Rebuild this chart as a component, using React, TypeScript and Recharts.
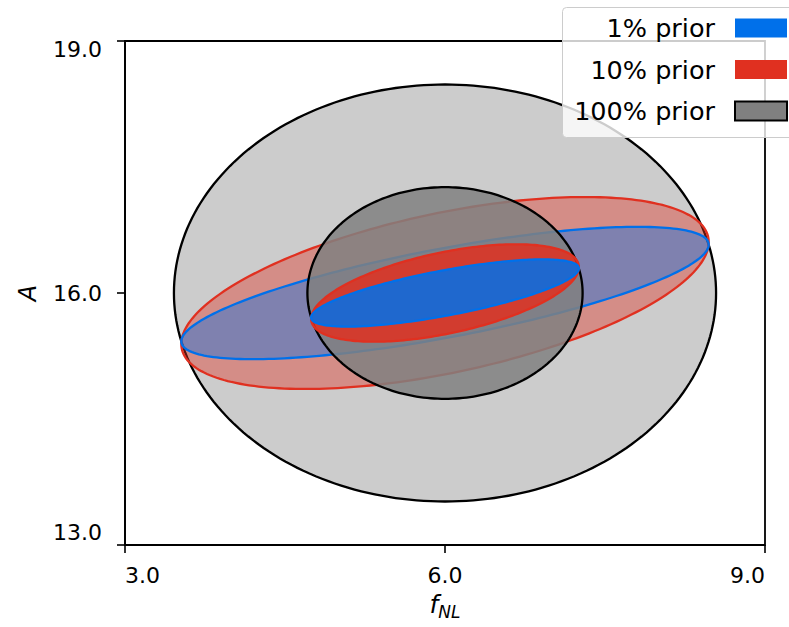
import {
  Legend,
  ReferenceArea,
  Scatter,
  ScatterChart,
  XAxis,
  YAxis,
} from "recharts";

const FONT = "'DejaVu Sans', sans-serif";

// Fiducial point and Fisher forecast errors for each prior
const PRIORS = ["1% prior", "10% prior", "100% prior"];
const FIDUCIAL_FNL = 6;
const FIDUCIAL_A = 16;
const SIGMA_FNL = [1.255, 1.255, 1.29];
const SIGMA_A = [0.4, 0.58, 1.26];
const CORR = [0.73, 0.53, 0];

// inner and outer contour
const LEVELS = [1, 1.97];
const LEVEL_ALPHA = [0.85, 0.4];

const FILL = ["#0070ea", "#e03020", "#808080"];
const EDGE = ["#0070ea", "#e03020", "#000000"];

const FNL_TICKS = [3, 6, 9];
const A_TICKS = [13, 16, 19];

const STEPS = 240;

function contour(i: number, level: number) {
  const sx = SIGMA_FNL[i] * level;
  const sy = SIGMA_A[i] * level;
  const r = CORR[i];
  const pts: { fNL: number; A: number }[] = [];
  for (let k = 0; k <= STEPS; k++) {
    const t = (2 * Math.PI * k) / STEPS;
    pts.push({
      fNL: FIDUCIAL_FNL + sx * Math.cos(t),
      A: FIDUCIAL_A + sy * (r * Math.cos(t) + Math.sqrt(1 - r * r) * Math.sin(t)),
    });
  }
  return pts;
}

// outer contours first, widest prior at the bottom
const layers: { prior: number; level: number }[] = [];
for (let l = LEVELS.length - 1; l >= 0; l--) {
  for (let p = PRIORS.length - 1; p >= 0; p--) layers.push({ prior: p, level: l });
}

const outline = (fill: string, opacity: number, stroke: string) => (props: any) => {
  const pts = props.points || [];
  const d =
    pts.map((p: any, k: number) => `${k ? "L" : "M"}${p.x},${p.y}`).join("") + "Z";
  return (
    <path d={d} fill={fill} fillOpacity={opacity} stroke={stroke} strokeWidth={2.3} />
  );
};

const hidden = () => <g />;

const XTick = (props: any) => {
  const { x, y, payload } = props;
  const v = payload.value;
  const anchor = v === FNL_TICKS[0] ? "start" : v === FNL_TICKS[2] ? "end" : "middle";
  return (
    <text x={x} y={y} dy={28} textAnchor={anchor} fontSize={22} fontFamily={FONT} fill="#000">
      {v.toFixed(1)}
    </text>
  );
};

const YTick = (props: any) => {
  const { x, y, payload } = props;
  const v = payload.value;
  const dy = v === A_TICKS[2] ? 16 : v === A_TICKS[0] ? -5 : 8;
  return (
    <text x={x - 13} y={y} dy={dy} textAnchor="end" fontSize={22} fontFamily={FONT} fill="#000">
      {v.toFixed(1)}
    </text>
  );
};

const PriorLegend = () => (
  <svg width={240} height={132} style={{ display: "block" }}>
    <rect
      x={0.5}
      y={0.5}
      width={260}
      height={130}
      rx={4}
      fill="#fff"
      fillOpacity={0.8}
      stroke="#cccccc"
    />
    {PRIORS.map((name, i) => {
      const base = 30 + i * 41.5;
      return (
        <g key={name}>
          <text x={153} y={base} textAnchor="end" fontSize={25.5} fontFamily={FONT} fill="#000">
            {name}
          </text>
          <rect
            x={173}
            y={base - 18.5}
            width={52}
            height={19}
            fill={FILL[i]}
            stroke={EDGE[i]}
            strokeWidth={i === 2 ? 2 : 0}
          />
        </g>
      );
    })}
  </svg>
);

export default function App() {
  return (
    <div
      style={{
        position: "fixed",
        left: 0,
        top: 0,
        width: 789,
        height: 627,
        overflow: "hidden",
        background: "#fff",
      }}
    >
      <ScatterChart
        width={789}
        height={627}
        margin={{ top: 41, right: 24, left: 45, bottom: 22 }}
      >
        <XAxis
          type="number"
          dataKey="fNL"
          domain={[3, 9]}
          ticks={FNL_TICKS}
          allowDataOverflow
          height={60}
          tickSize={8}
          axisLine={{ stroke: "#000", strokeWidth: 1.8 }}
          tickLine={{ stroke: "#000", strokeWidth: 1.6 }}
          tick={<XTick />}
        />
        <YAxis
          type="number"
          dataKey="A"
          domain={[13, 19]}
          ticks={A_TICKS}
          allowDataOverflow
          width={80}
          tickSize={8}
          axisLine={{ stroke: "#000", strokeWidth: 1.8 }}
          tickLine={{ stroke: "#000", strokeWidth: 1.6 }}
          tick={<YTick />}
        />
        {layers.map(({ prior, level }) => (
          <Scatter
            key={`${prior}-${level}`}
            data={contour(prior, LEVELS[level])}
            line={outline(FILL[prior], LEVEL_ALPHA[level], EDGE[prior])}
            shape={hidden}
            isAnimationActive={false}
          />
        ))}
        <ReferenceArea
          x1={3}
          x2={9}
          y1={13}
          y2={19}
          fill="none"
          stroke="#000"
          strokeWidth={1.8}
          ifOverflow="visible"
        />
        <Legend
          layout="vertical"
          align="center"
          verticalAlign="middle"
          wrapperStyle={{ left: 562, top: 7, width: 240 }}
          content={() => <PriorLegend />}
        />
      </ScatterChart>
      <svg
        width={789}
        height={627}
        style={{ position: "absolute", left: 0, top: 0, pointerEvents: "none" }}
      >
        <text
          x={36}
          y={293}
          transform="rotate(-90, 36, 293)"
          textAnchor="middle"
          fontSize={24}
          fontStyle="italic"
          fontFamily={FONT}
        >
          A
        </text>
        <text x={445} y={613} textAnchor="middle" fontSize={25} fontStyle="italic" fontFamily={FONT}>
          f
          <tspan fontSize={17} dy={5}>
            NL
          </tspan>
        </text>
      </svg>
    </div>
  );
}
